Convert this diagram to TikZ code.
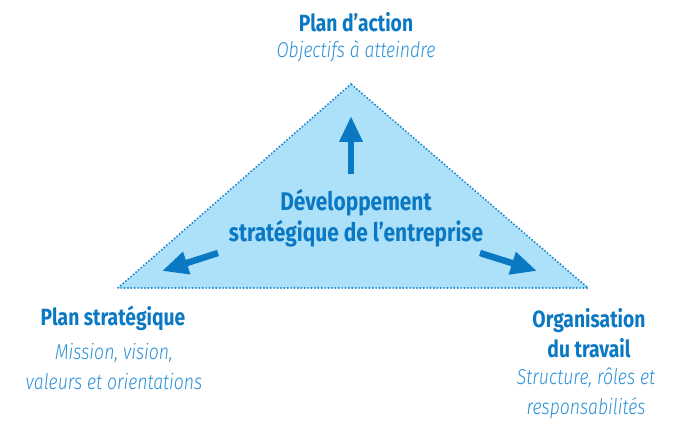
\documentclass[tikz,border=0pt]{standalone}
\usepackage{fontspec}
\setmainfont{Fira Sans}[FakeStretch=0.82]
\newfontfamily\itf{Fira Sans Light Italic}[FakeStretch=0.82]
\usetikzlibrary{arrows.meta}
\definecolor{tfill}{HTML}{ADE1F9}
\definecolor{tline}{HTML}{1A88D0}
\definecolor{dblue}{HTML}{0A78C2}
\definecolor{lblue}{HTML}{2A90D6}
\begin{document}
\begin{tikzpicture}[x=1pt,y=-1pt,
  ttl/.style={font=\fontsize{23.5}{30}\selectfont\bfseries, text=dblue, align=center, inner sep=0pt},
  sub/.style={font=\fontsize{21.5}{30}\selectfont\itf, text=lblue, align=center, inner sep=0pt},
  bigarrow/.style={draw=dblue, line width=6.5pt, -{Triangle[length=26pt,width=22pt]}}]
\useasboundingbox (0,0) rectangle (675,425);
\coordinate (A) at (351,84);
\coordinate (L) at (118,288);
\coordinate (R) at (588,288);
\fill[tfill] (A) -- (L) -- (R) -- cycle;
\draw[tline, line width=2.2pt, line cap=round, dash pattern=on 0pt off 3.4pt] (A) -- (L) -- (R) -- cycle;
% arrows
\coordinate (u1) at (351,174); \coordinate (u2) at (351,116);
\coordinate (l1) at (218,253); \coordinate (l2) at (162,271);
\coordinate (r1) at (480,253); \coordinate (r2) at (537,271);
\draw[bigarrow] (u1) -- (u2);
\draw[bigarrow] (l1) -- (l2);
\draw[bigarrow] (r1) -- (r2);
% centre text
\node[ttl, font=\fontsize{25.5}{31}\selectfont\bfseries] (c) at (356,218) {Développement\\stratégique de l’entreprise};
% top
\node[ttl] (t1) at (356,22) {Plan d’action};
\node[sub] (t2) at (356,51) {Objectifs à atteindre};
% left
\node[ttl] (l1t) at (113,318) {Plan stratégique};
\node[sub] (l2t) at (114,367) {Mission, vision,\\valeurs et orientations};
% right
\node[ttl] (r1t) at (589,333) {Organisation\\du travail};
\node[sub] (r2t) at (586,393) {Structure, rôles et\\responsabilités};
\end{tikzpicture}
\end{document}
